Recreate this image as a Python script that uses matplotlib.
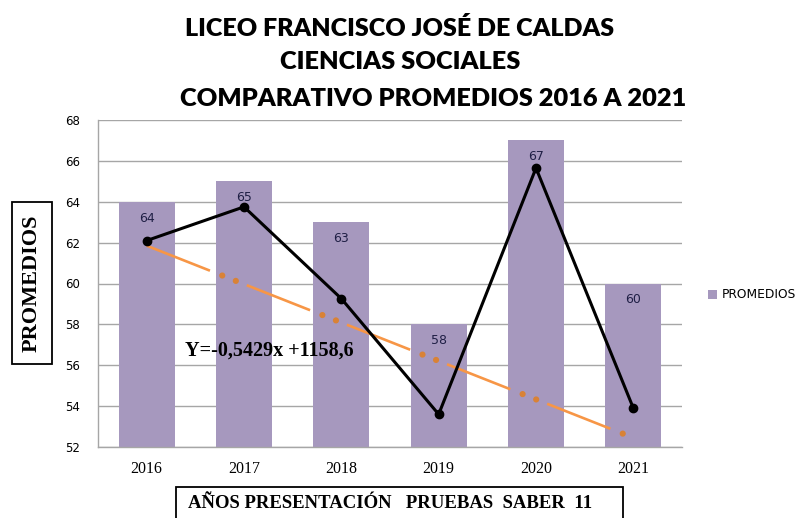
import matplotlib
matplotlib.use("Agg")
import matplotlib.pyplot as plt
from matplotlib.patches import Rectangle

# ---- data ----
years = ["2016", "2017", "2018", "2019", "2020", "2021"]
promedios = [64, 65, 63, 58, 67, 60]
line_values = [62.1, 63.75, 59.26, 53.6, 65.65, 53.9]
trend_ends = [61.85, 52.45]
y_ticks = [52, 54, 56, 58, 60, 62, 64, 66, 68]
title_lines = ["LICEO FRANCISCO JOSÉ DE CALDAS", "CIENCIAS SOCIALES",
               "COMPARATIVO PROMEDIOS 2016 A 2021"]
equation = "Y=-0,5429x +1158,6"
legend_label = "PROMEDIOS"
ylabel = "PROMEDIOS"
xlabel = "AÑOS PRESENTACIÓN   PRUEBAS  SABER  11"

plt.rcParams['lines.scale_dashes'] = False

W, H = 799, 518
fig = plt.figure(figsize=(W / 100, H / 100), dpi=100)
ax = fig.add_axes([98 / W, 1 - 447 / H, 584 / W, 327 / H])

x = list(range(len(years)))
bars = ax.bar(x, promedios, width=0.575, color="#A698BE", zorder=2, label=legend_label)
for xi, v in zip(x, promedios):
    ax.text(xi, v - 0.8, str(v), ha="center", va="center", fontsize=9,
            color="#1F1F45", family="DejaVu Sans", zorder=5)

# trend line (dashes + dots)
tx = [x[0], x[-1]]
ax.plot(tx, trend_ends, color="#F79646", lw=1.9, linestyle=(0, (49, 28.5)),
        solid_capstyle="butt", dash_capstyle="butt", zorder=3)
ax.plot(tx, trend_ends, color="#D98236", lw=4.5, linestyle=(77.5 - 58.5, (0.01, 10.5, 0.01, 66.98)),
        dash_capstyle="round", zorder=3)

ax.plot(x, line_values, color="black", lw=2.2, marker="o", markersize=6, zorder=4)

ax.set_xlim(-0.5, len(years) - 0.5)
ax.set_ylim(52, 68)
ax.set_yticks(y_ticks)
ax.set_xticks(x)
ax.set_xticklabels(years, family="Liberation Serif", fontsize=11.5)
ax.set_yticklabels([str(t) for t in y_ticks], family="DejaVu Sans", fontsize=8.5)
ax.tick_params(axis="y", length=0, pad=13)
ax.tick_params(axis="x", length=0, pad=10)
ax.grid(axis="y", color="#A6A6A6", lw=1.0, zorder=0)
ax.set_axisbelow(True)
for s in ["top", "right"]:
    ax.spines[s].set_visible(False)
for s in ["left", "bottom"]:
    ax.spines[s].set_color("#A6A6A6")
    ax.spines[s].set_linewidth(1.0)

ax.text(0.39, 56.7, equation, family="Liberation Serif", fontweight="bold",
        fontsize=14.5, ha="left", va="center", zorder=6)

# legend
fig.legend(handles=[bars], labels=[legend_label], loc="center left",
           bbox_to_anchor=(697 / W, 1 - 295 / H), frameon=False,
           prop={"family": "DejaVu Sans", "size": 8.8}, handlelength=0.7,
           handleheight=0.7, handletextpad=0.4)

# title
ys = [28, 62, 99]
xs = [400, 400, 433]
sizes = [18.0, 18.3, 18.3]
for t, yy, xx, fs in zip(title_lines, ys, xs, sizes):
    fig.text(xx / W, 1 - yy / H, t, ha="center", va="center", family="Lato",
             fontweight="heavy", fontsize=fs)

# y label box
fig.patches.append(Rectangle((12 / W, 1 - 364 / H), 40 / W, 162 / H, transform=fig.transFigure,
                             fill=False, edgecolor="black", lw=1.3))
fig.text(32 / W, 1 - 283 / H, ylabel, rotation=90, ha="center", va="center",
         family="Liberation Serif", fontweight="bold", fontsize=16)

# x label box
fig.patches.append(Rectangle((176 / W, 1 - 530 / H), 447 / W, 43 / H, transform=fig.transFigure,
                             fill=False, edgecolor="black", lw=1.3, clip_on=False))
fig.text(390 / W, 1 - 503 / H, xlabel, ha="center", va="center",
         family="Liberation Serif", fontweight="bold", fontsize=13.5)

fig.savefig("out.png", dpi=100)
